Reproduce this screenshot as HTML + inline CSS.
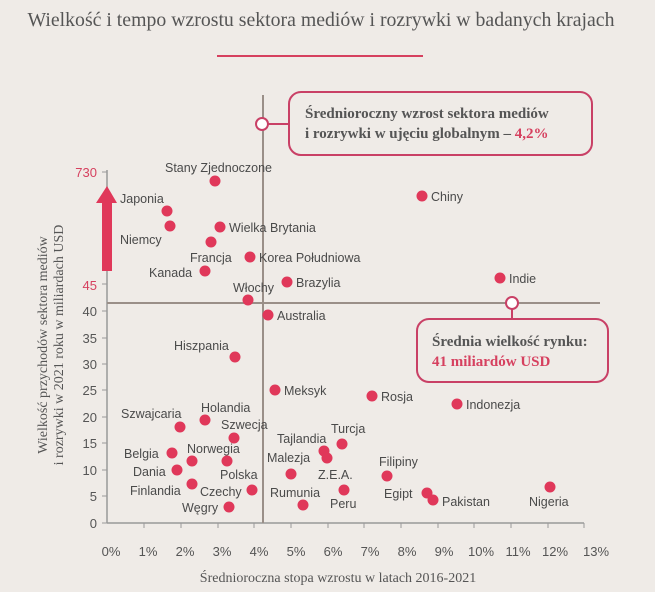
<!DOCTYPE html>
<html><head><meta charset="utf-8"><style>
body{margin:0;background:#efebe7;}
svg{display:block}
.s{font-family:"Liberation Sans",sans-serif;font-size:12.5px;fill:#4a4a4a}
.t{font-family:"Liberation Sans",sans-serif;font-size:13px;fill:#555}
.f{font-family:"Liberation Serif",serif;fill:#555}
</style></head><body>
<svg width="655" height="592" viewBox="0 0 655 592">
<rect width="655" height="592" fill="#efebe7"/>
<text x="321" y="26" text-anchor="middle" class="f" font-size="19.8">Wielkość i tempo wzrostu sektora mediów i rozrywki w badanych krajach</text>
<line x1="217" y1="56" x2="423" y2="56" stroke="#d6405f" stroke-width="2"/>
<g stroke="#999" stroke-width="1.5" fill="none">
<line x1="107" y1="170" x2="107" y2="523"/>
<line x1="107" y1="523" x2="584" y2="523"/>
<line x1="263" y1="95" x2="263" y2="523" stroke="#9a8f88" stroke-width="2"/>
<line x1="107" y1="303" x2="600" y2="303" stroke="#9a8f88" stroke-width="2"/>
<g stroke-width="1">
<line x1="102" y1="172" x2="107" y2="172"/><line x1="102" y1="284" x2="107" y2="284"/>
<line x1="102" y1="311" x2="107" y2="311"/><line x1="102" y1="338" x2="107" y2="338"/>
<line x1="102" y1="364" x2="107" y2="364"/><line x1="102" y1="390" x2="107" y2="390"/>
<line x1="102" y1="417" x2="107" y2="417"/><line x1="102" y1="443" x2="107" y2="443"/>
<line x1="102" y1="470" x2="107" y2="470"/><line x1="102" y1="496" x2="107" y2="496"/>
<line x1="102" y1="523" x2="107" y2="523"/>
<line x1="144" y1="523" x2="144" y2="528"/><line x1="181" y1="523" x2="181" y2="528"/>
<line x1="218" y1="523" x2="218" y2="528"/><line x1="254" y1="523" x2="254" y2="528"/>
<line x1="291" y1="523" x2="291" y2="528"/><line x1="328" y1="523" x2="328" y2="528"/>
<line x1="364" y1="523" x2="364" y2="528"/><line x1="401" y1="523" x2="401" y2="528"/>
<line x1="438" y1="523" x2="438" y2="528"/><line x1="474" y1="523" x2="474" y2="528"/>
<line x1="511" y1="523" x2="511" y2="528"/><line x1="548" y1="523" x2="548" y2="528"/>
<line x1="584" y1="523" x2="584" y2="528"/>
</g></g>
<g class="t" text-anchor="end">
<text x="97" y="177" fill="#d6405f">730</text><text x="97" y="290" fill="#d6405f">45</text>
<text x="97" y="316">40</text><text x="97" y="343">35</text><text x="97" y="369">30</text>
<text x="97" y="395">25</text><text x="97" y="422">20</text><text x="97" y="448">15</text>
<text x="97" y="475">10</text><text x="97" y="501">5</text><text x="97" y="528">0</text>
</g>
<g class="t" text-anchor="middle">
<text x="111" y="556">0%</text><text x="148" y="556">1%</text><text x="185" y="556">2%</text>
<text x="222" y="556">3%</text><text x="259" y="556">4%</text><text x="296" y="556">5%</text>
<text x="333" y="556">6%</text><text x="370" y="556">7%</text><text x="407" y="556">8%</text>
<text x="444" y="556">9%</text><text x="481" y="556">10%</text><text x="518" y="556">11%</text>
<text x="555" y="556">12%</text><text x="596" y="556">13%</text>
</g>
<text x="338" y="582" text-anchor="middle" class="f" font-size="14">Średnioroczna stopa wzrostu w latach 2016-2021</text>
<g transform="translate(47,345) rotate(-90)" class="f" font-size="14" text-anchor="middle">
<text x="0" y="0">Wielkość przychodów sektora mediów</text>
<text x="0" y="16">i rozrywki w 2021 roku w miliardach USD</text>
</g>
<polygon points="107,186 117,203 112,203 112,271 102,271 102,203 96,203" fill="#e0385a"/>
<g fill="#e0385a">
<circle cx="215" cy="181" r="5.5"/><circle cx="167" cy="211" r="5.5"/><circle cx="170" cy="226" r="5.5"/>
<circle cx="220" cy="227" r="5.5"/><circle cx="211" cy="242" r="5.5"/><circle cx="250" cy="257" r="5.5"/>
<circle cx="205" cy="271" r="5.5"/><circle cx="287" cy="282" r="5.5"/><circle cx="248" cy="300" r="5.5"/>
<circle cx="268" cy="315" r="5.5"/><circle cx="422" cy="196" r="5.5"/><circle cx="500" cy="278" r="5.5"/>
<circle cx="235" cy="357" r="5.5"/><circle cx="275" cy="390" r="5.5"/><circle cx="372" cy="396" r="5.5"/>
<circle cx="457" cy="404" r="5.5"/><circle cx="180" cy="427" r="5.5"/><circle cx="205" cy="420" r="5.5"/>
<circle cx="234" cy="438" r="5.5"/><circle cx="324" cy="451" r="5.5"/><circle cx="327" cy="458" r="5.5"/>
<circle cx="342" cy="444" r="5.5"/><circle cx="172" cy="453" r="5.5"/><circle cx="192" cy="461" r="5.5"/>
<circle cx="227" cy="461" r="5.5"/><circle cx="177" cy="470" r="5.5"/><circle cx="291" cy="474" r="5.5"/>
<circle cx="192" cy="484" r="5.5"/><circle cx="252" cy="490" r="5.5"/><circle cx="303" cy="505" r="5.5"/>
<circle cx="229" cy="507" r="5.5"/><circle cx="344" cy="490" r="5.5"/><circle cx="387" cy="476" r="5.5"/>
<circle cx="427" cy="493" r="5.5"/><circle cx="433" cy="500" r="5.5"/><circle cx="550" cy="487" r="5.5"/>
</g>
<g class="s">
<text x="165" y="172">Stany Zjednoczone</text>
<text x="120" y="203">Japonia</text>
<text x="120" y="244">Niemcy</text>
<text x="229" y="232">Wielka Brytania</text>
<text x="190" y="262">Francja</text>
<text x="259" y="262">Korea Południowa</text>
<text x="149" y="277">Kanada</text>
<text x="296" y="287">Brazylia</text>
<text x="233" y="292">Włochy</text>
<text x="277" y="320">Australia</text>
<text x="431" y="201">Chiny</text>
<text x="509" y="283">Indie</text>
<text x="174" y="350">Hiszpania</text>
<text x="284" y="395">Meksyk</text>
<text x="381" y="401">Rosja</text>
<text x="466" y="409">Indonezja</text>
<text x="121" y="418">Szwajcaria</text>
<text x="201" y="412">Holandia</text>
<text x="221" y="429">Szwecja</text>
<text x="277" y="443">Tajlandia</text>
<text x="331" y="433">Turcja</text>
<text x="124" y="458">Belgia</text>
<text x="187" y="453">Norwegia</text>
<text x="220" y="479">Polska</text>
<text x="133" y="476">Dania</text>
<text x="267" y="462">Malezja</text>
<text x="318" y="479">Z.E.A.</text>
<text x="130" y="495">Finlandia</text>
<text x="200" y="496">Czechy</text>
<text x="270" y="497">Rumunia</text>
<text x="182" y="512">Węgry</text>
<text x="330" y="508">Peru</text>
<text x="379" y="466">Filipiny</text>
<text x="384" y="498">Egipt</text>
<text x="442" y="506">Pakistan</text>
<text x="529" y="506">Nigeria</text>
</g>
<line x1="268" y1="124" x2="289" y2="124" stroke="#c94066" stroke-width="2"/>
<rect x="289" y="92" width="303" height="63" rx="12" fill="#efebe7" stroke="#c94066" stroke-width="2"/>
<circle cx="262" cy="124" r="6" fill="#fff" stroke="#c94066" stroke-width="2"/>
<text x="305" y="118" class="f" font-size="15" font-weight="bold">Średnioroczny wzrost sektora mediów</text>
<text x="305" y="138" class="f" font-size="15" font-weight="bold">i rozrywki w ujęciu globalnym – <tspan fill="#d6405f">4,2%</tspan></text>
<line x1="512" y1="309" x2="512" y2="319" stroke="#c94066" stroke-width="2"/>
<rect x="417" y="319" width="191" height="63" rx="12" fill="#efebe7" stroke="#c94066" stroke-width="2"/>
<circle cx="512" cy="303" r="6" fill="#fff" stroke="#c94066" stroke-width="2"/>
<text x="432" y="346" class="f" font-size="15" font-weight="bold">Średnia wielkość rynku:</text>
<text x="432" y="366" class="f" font-size="15" font-weight="bold" style="fill:#d6405f">41 miliardów USD</text>
</svg>
</body></html>
